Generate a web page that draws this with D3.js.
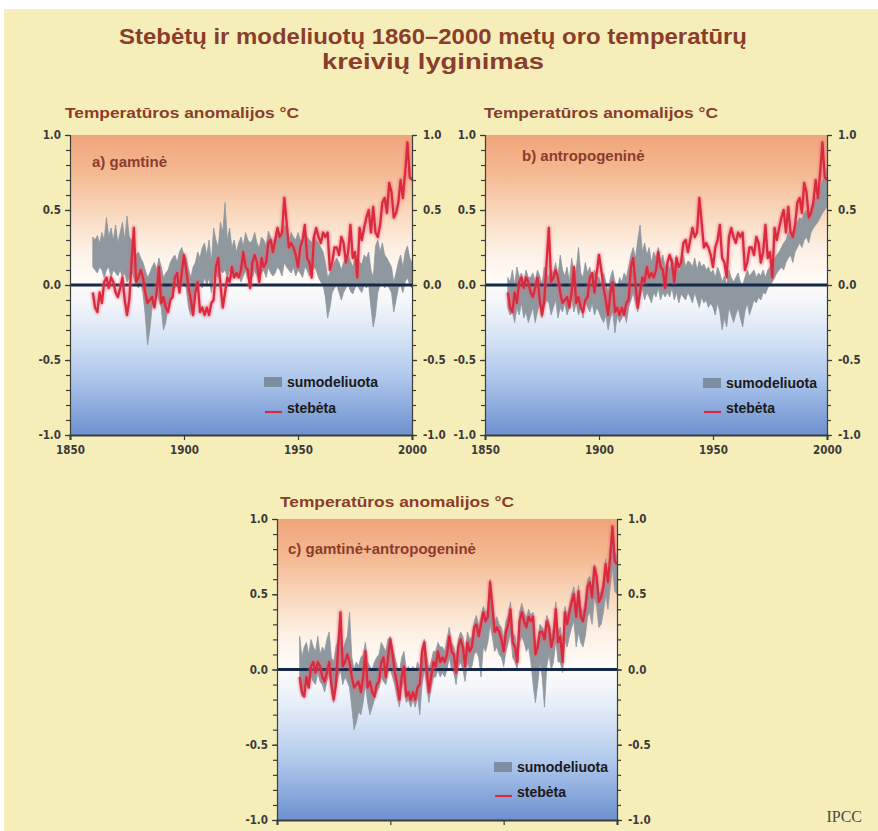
<!DOCTYPE html>
<html>
<head>
<meta charset="utf-8">
<script src="https://cdn.jsdelivr.net/npm/d3@7"></script>
<style>
  html, body { margin: 0; padding: 0; background: #ffffff; }
  svg { display: block; }
</style>
</head>
<body>
<svg id="chart" width="878" height="831"></svg>
<script>
// ---- data -------------------------------------------------------------
const firstYear = 1860;
const xDomain = [1850, 2000];
const yDomain = [-1, 1];
const xTicks = [1850, 1900, 1950, 2000];
const xTickLabels = ["1850", "1900", "1950", "2000"];
const yTicks = [-1, -0.5, 0, 0.5, 1];
const yTickLabels = ["-1.0", "-0.5", "0.0", "0.5", "1.0"];
const yMinorTicks = [-1, -0.9, -0.8, -0.7, -0.6, -0.5, -0.4, -0.3, -0.2, -0.1, 0,
                     0.1, 0.2, 0.3, 0.4, 0.5, 0.6, 0.7, 0.8, 0.9, 1];

const titleLines = ["Stebėtų ir modeliuotų 1860–2000 metų oro temperatūrų", "kreivių lyginimas"];
const axisTitle = "Temperatūros anomalijos °C";
const panelLabels = ["a) gamtinė", "b) antropogeninė", "c) gamtinė+antropogeninė"];
const legendLabels = ["sumodeliuota", "stebėta"];
const sourceLabel = "IPCC";

// observed annual anomaly, 1860–2000
const observed = [
  -0.05,-0.15,-0.18,-0.05,-0.12, 0.02, 0.05,-0.02, 0.05, 0.02,
  -0.05,-0.08,-0.02, 0.05,-0.10,-0.20,-0.10, 0.15, 0.38, 0.02,
   0.05, 0.10, 0.05,-0.05,-0.12,-0.10,-0.08,-0.15,-0.05, 0.12,
  -0.12,-0.08,-0.15,-0.18,-0.10,-0.08, 0.05, 0.08,-0.05, 0.08,
   0.20, 0.10,-0.02,-0.10,-0.20,-0.05, 0.02,-0.18,-0.15,-0.20,
  -0.15,-0.20,-0.12,-0.10, 0.12, 0.18, 0.00,-0.15,-0.05, 0.05,
   0.02, 0.12, 0.05, 0.08, 0.05, 0.10, 0.22, 0.12, 0.10,-0.02,
   0.15, 0.20, 0.15, 0.02, 0.18, 0.12, 0.15, 0.28, 0.30, 0.22,
   0.30, 0.38, 0.32, 0.35, 0.58, 0.42, 0.25, 0.28, 0.25, 0.20,
   0.12, 0.25, 0.30, 0.40, 0.18, 0.15, 0.05, 0.32, 0.38, 0.32,
   0.28, 0.35, 0.32, 0.35, 0.10, 0.15, 0.25, 0.25, 0.20, 0.32,
   0.28, 0.15, 0.22, 0.40, 0.18, 0.22, 0.05, 0.38, 0.30, 0.38,
   0.45, 0.50, 0.35, 0.52, 0.35, 0.32, 0.40, 0.55, 0.58, 0.48,
   0.68, 0.62, 0.45, 0.48, 0.55, 0.70, 0.58, 0.75, 0.95, 0.72,
   0.70
];

// model ensemble range, natural forcing
const naturalLow = [
   0.12, 0.10, 0.08, 0.12, 0.10, 0.05, 0.10, 0.12, 0.05, 0.10,
   0.08, 0.06, 0.10, 0.05, 0.08, 0.02, 0.05, 0.10, 0.05, 0.00,
  -0.02, 0.02,-0.05,-0.20,-0.40,-0.30,-0.15,-0.08,-0.05,-0.10,
  -0.15,-0.30,-0.25,-0.15,-0.10,-0.05,-0.02, 0.00,-0.05, 0.02,
   0.00,-0.02,-0.15,-0.20,-0.10,-0.05, 0.00, 0.02,-0.02, 0.05,
   0.00, 0.05,-0.05, 0.05, 0.08, 0.05, 0.10, 0.08, 0.10, 0.05,
   0.10, 0.05, 0.08, 0.05, 0.08, 0.02, 0.06, 0.10, 0.04, 0.08,
   0.05, 0.10, 0.06, 0.02, 0.08, 0.10, 0.05, 0.12, 0.08, 0.06,
   0.08, 0.12, 0.10, 0.06, 0.15, 0.12, 0.10, 0.08, 0.12, 0.06,
   0.10, 0.08, 0.05, 0.12, 0.10, 0.06, 0.08, 0.12, 0.10, 0.05,
   0.02, 0.00,-0.08,-0.22,-0.15,-0.05,-0.02, 0.00,-0.05,-0.10,
  -0.05,-0.02, 0.00,-0.04,-0.06,-0.02, 0.00,-0.03,-0.05, 0.00,
  -0.02, 0.00,-0.15,-0.28,-0.20,-0.05, 0.00, 0.02,-0.02, 0.00,
  -0.02,-0.05,-0.18,-0.10,-0.02, 0.00,-0.05, 0.02, 0.05, 0.00,
  -0.02
];
const naturalHigh = [
   0.32, 0.30, 0.33, 0.28, 0.35, 0.30, 0.45, 0.32, 0.38, 0.30,
   0.40, 0.28, 0.35, 0.42, 0.30, 0.46, 0.32, 0.30, 0.25, 0.20,
   0.22, 0.18, 0.15, 0.10, 0.05, 0.08, 0.12, 0.15, 0.10, 0.18,
   0.12, 0.05, 0.08, 0.10, 0.15, 0.18, 0.20, 0.15, 0.22, 0.25,
   0.20, 0.18, 0.10, 0.05, 0.12, 0.15, 0.22, 0.18, 0.25, 0.28,
   0.20, 0.30, 0.15, 0.38, 0.30, 0.25, 0.42, 0.35, 0.55, 0.30,
   0.38, 0.25, 0.30, 0.22, 0.28, 0.32, 0.26, 0.35, 0.30, 0.28,
   0.30, 0.35, 0.28, 0.25, 0.32, 0.30, 0.26, 0.36, 0.32, 0.28,
   0.32, 0.36, 0.30, 0.34, 0.40, 0.38, 0.30, 0.35, 0.32, 0.30,
   0.35, 0.30, 0.28, 0.36, 0.32, 0.30, 0.28, 0.34, 0.30, 0.28,
   0.25, 0.22, 0.15, 0.05, 0.08, 0.12, 0.15, 0.18, 0.15, 0.10,
   0.15, 0.18, 0.20, 0.16, 0.12, 0.18, 0.20, 0.15, 0.14, 0.20,
   0.18, 0.22, 0.10, 0.05, 0.26, 0.30, 0.22, 0.28, 0.20, 0.18,
   0.15, 0.12, 0.02, 0.08, 0.15, 0.20, 0.12, 0.22, 0.26, 0.18,
   0.15
];

// model ensemble range, anthropogenic forcing
const anthroLow = [
  -0.15,-0.20,-0.18,-0.25,-0.15,-0.20,-0.12,-0.22,-0.18,-0.25,
  -0.20,-0.15,-0.25,-0.18,-0.12,-0.22,-0.15,-0.10,-0.12,-0.20,
  -0.15,-0.10,-0.22,-0.15,-0.18,-0.12,-0.20,-0.15,-0.08,-0.18,
  -0.12,-0.20,-0.15,-0.22,-0.10,-0.15,-0.18,-0.12,-0.20,-0.15,
  -0.18,-0.22,-0.25,-0.20,-0.30,-0.22,-0.18,-0.32,-0.20,-0.25,
  -0.22,-0.18,-0.25,-0.15,-0.10,-0.05,-0.12,-0.18,-0.08,-0.02,
  -0.10,-0.05,-0.08,-0.12,-0.05,-0.08,-0.02,-0.10,-0.05,-0.08,
  -0.05,-0.08,-0.02,-0.10,-0.05,-0.12,-0.06,-0.08,-0.10,-0.05,
  -0.08,-0.12,-0.05,-0.10,-0.15,-0.08,-0.12,-0.10,-0.15,-0.12,
  -0.15,-0.20,-0.12,-0.18,-0.30,-0.22,-0.28,-0.15,-0.20,-0.25,
  -0.20,-0.15,-0.22,-0.28,-0.18,-0.12,-0.20,-0.15,-0.10,-0.12,
  -0.08,-0.10,-0.05,-0.06,-0.02, 0.00, 0.02, 0.05, 0.08, 0.10,
   0.12, 0.10, 0.15, 0.18, 0.20, 0.15, 0.22, 0.25, 0.28, 0.25,
   0.30, 0.32, 0.28, 0.35, 0.38, 0.40, 0.42, 0.45, 0.48, 0.50,
   0.52
];
const anthroHigh = [
   0.05, 0.02, 0.10, 0.00, 0.12, 0.05, 0.08, 0.02, 0.10, 0.05,
   0.05, 0.08, 0.02, 0.10, 0.06, 0.00, 0.12, 0.08, 0.05, 0.10,
   0.08, 0.15, 0.05, 0.20, 0.10, 0.06, 0.12, 0.02, 0.18, 0.08,
   0.10, 0.25, 0.08, 0.05, 0.15, 0.08, 0.12, 0.02, 0.10, 0.06,
   0.05, 0.00, 0.08, 0.02,-0.05, 0.05, 0.10, 0.02,-0.02, 0.05,
   0.02, 0.08, 0.05, 0.12, 0.20, 0.25, 0.18, 0.30, 0.40, 0.22,
   0.28, 0.20, 0.25, 0.15, 0.22, 0.18, 0.25, 0.15, 0.20, 0.12,
   0.15, 0.10, 0.18, 0.12, 0.20, 0.08, 0.15, 0.20, 0.12, 0.16,
   0.15, 0.12, 0.18, 0.10, 0.16, 0.12, 0.14, 0.10, 0.12, 0.08,
   0.10, 0.05, 0.12, 0.08, 0.02, 0.06, 0.00, 0.10, 0.05, 0.02,
   0.05, 0.08, 0.02, 0.00, 0.05, 0.10, 0.06, 0.08, 0.10, 0.05,
   0.08, 0.06, 0.10, 0.05, 0.10, 0.12, 0.15, 0.18, 0.20, 0.22,
   0.25, 0.28, 0.30, 0.35, 0.32, 0.36, 0.40, 0.42, 0.45, 0.44,
   0.48, 0.50, 0.46, 0.52, 0.55, 0.58, 0.60, 0.65, 0.70, 0.72,
   0.78
];

// model ensemble range, natural + anthropogenic forcing
const combinedLow = [
  -0.10,-0.18,-0.15,-0.05,-0.12,-0.05,-0.08,-0.10,-0.02,-0.08,
  -0.10,-0.15,-0.08,-0.02,-0.15,-0.22,-0.12,-0.05, 0.00,-0.10,
  -0.05,-0.08,-0.12,-0.25,-0.40,-0.35,-0.28,-0.30,-0.22,-0.10,
  -0.22,-0.30,-0.25,-0.20,-0.15,-0.12,-0.05,-0.08,-0.10,-0.02,
   0.00,-0.05,-0.10,-0.18,-0.25,-0.12,-0.08,-0.22,-0.20,-0.25,
  -0.20,-0.25,-0.18,-0.30,-0.10, 0.00,-0.10,-0.22,-0.12,-0.05,
  -0.05, 0.00,-0.05,-0.02,-0.05, 0.00, 0.08, 0.00,-0.02,-0.10,
   0.02, 0.05, 0.00,-0.08, 0.05, 0.00, 0.02, 0.10, 0.12, 0.08,
  -0.05, 0.15, 0.12, 0.18, 0.30, 0.22, 0.12, 0.15, 0.10, 0.08,
   0.02, 0.12, 0.18, 0.25, 0.08, 0.05, 0.00, 0.18, 0.22, 0.18,
   0.12, 0.15, 0.05,-0.10,-0.22,-0.10, 0.05,-0.05,-0.25, 0.02,
   0.10, 0.00, 0.05, 0.20, 0.05, 0.05,-0.02, 0.20, 0.15, 0.22,
   0.28, 0.32, 0.15, 0.25, 0.18, 0.15, 0.22, 0.35, 0.38, 0.30,
   0.48, 0.42, 0.28, 0.30, 0.38, 0.50, 0.40, 0.55, 0.68, 0.52,
   0.50
];
const combinedHigh = [
   0.22, 0.08, 0.15, 0.18, 0.10, 0.20, 0.15, 0.12, 0.22, 0.10,
   0.15, 0.12, 0.20, 0.25, 0.08, 0.05, 0.15, 0.20, 0.25, 0.12,
   0.18, 0.22, 0.38, 0.08, 0.00, 0.05, 0.02, 0.08, 0.10, 0.18,
   0.05, 0.02, 0.00, 0.05, 0.08, 0.10, 0.18, 0.15, 0.12, 0.20,
   0.22, 0.15, 0.08, 0.02,-0.02, 0.08, 0.12, 0.00, 0.02,-0.02,
   0.02,-0.02, 0.05, 0.00, 0.15, 0.20, 0.10, 0.00, 0.05, 0.12,
   0.12, 0.18, 0.15, 0.15, 0.12, 0.20, 0.28, 0.18, 0.15, 0.08,
   0.20, 0.25, 0.22, 0.10, 0.25, 0.20, 0.22, 0.32, 0.36, 0.28,
   0.35, 0.42, 0.38, 0.40, 0.60, 0.48, 0.32, 0.35, 0.30, 0.28,
   0.20, 0.32, 0.36, 0.45, 0.25, 0.22, 0.12, 0.38, 0.44, 0.38,
   0.34, 0.40, 0.36, 0.38, 0.15, 0.20, 0.30, 0.28, 0.25, 0.36,
   0.32, 0.22, 0.28, 0.45, 0.25, 0.28, 0.12, 0.42, 0.36, 0.42,
   0.50, 0.55, 0.40, 0.56, 0.42, 0.38, 0.46, 0.60, 0.62, 0.54,
   0.70, 0.66, 0.50, 0.52, 0.60, 0.74, 0.62, 0.80, 0.96, 0.78,
   0.75
];

// ---- drawing ----------------------------------------------------------
const svg = d3.select("#chart");
const brown = "#8a3d2c";
const bandColor = "#8e989e";
const redColor = "#dc2b3e";
const sansFont = "'Liberation Sans', Arial, sans-serif";
const narrowFont = "'DejaVu Sans Condensed', 'Liberation Sans', sans-serif";

const defs = svg.append("defs");

// plot-area background: warm at the top, cool at the bottom
const grad = defs.append("linearGradient")
  .attr("id", "plotBg").attr("x1", 0).attr("y1", 0).attr("x2", 0).attr("y2", 1);
[["0%", "#f0a57a"], ["12%", "#f4b891"], ["26%", "#f9d8bd"], ["38%", "#fdf0e4"],
 ["48%", "#fffbf7"], ["56%", "#f3f6fb"], ["66%", "#d9e6f6"], ["80%", "#b1c9ec"],
 ["100%", "#6d90d0"]].forEach(([o, c]) =>
  grad.append("stop").attr("offset", o).attr("stop-color", c));

const soft = defs.append("filter").attr("id", "soft")
  .attr("x", "-5%").attr("y", "-5%").attr("width", "110%").attr("height", "110%");
soft.append("feGaussianBlur").attr("stdDeviation", 0.55);

const glow = defs.append("filter").attr("id", "glow")
  .attr("x", "-5%").attr("y", "-5%").attr("width", "110%").attr("height", "110%");
glow.append("feGaussianBlur").attr("stdDeviation", 1.2);

// page background
svg.append("rect").attr("x", 4).attr("y", 9).attr("width", 874).attr("height", 822)
  .attr("fill", "#f6eeb8");

// title (bold sans, horizontally condensed)
svg.append("g").selectAll("text").data(titleLines).join("text")
  .attr("x", 433).attr("y", (d, i) => 44 + i * 25)
  .attr("text-anchor", "middle")
  .attr("font-family", sansFont)
  .attr("font-weight", "bold").attr("font-size", 22)
  .attr("fill", brown)
  .attr("textLength", (d, i) => i === 0 ? 628 : 222)
  .attr("lengthAdjust", "spacingAndGlyphs")
  .text(d => d);

const panels = [
  { label: panelLabels[0], low: naturalLow, high: naturalHigh,
    left: 70, right: 412, top: 135, bottom: 435, yearLabels: true,
    titleX: 65, titleY: 118, labelX: 92, labelY: 167,
    legendX: 264, legendY: 377, legendGap: 25 },
  { label: panelLabels[1], low: anthroLow, high: anthroHigh,
    left: 485, right: 827, top: 135, bottom: 435, yearLabels: true,
    titleX: 484, titleY: 118, labelX: 522, labelY: 161,
    legendX: 703, legendY: 378, legendGap: 24 },
  { label: panelLabels[2], low: combinedLow, high: combinedHigh,
    left: 277, right: 617, top: 519, bottom: 820, yearLabels: false,
    titleX: 280, titleY: 507, labelX: 288, labelY: 554,
    legendX: 494, legendY: 762, legendGap: 24 }
];

panels.forEach((p, pi) => {
  const x = d3.scaleLinear().domain(xDomain).range([p.left, p.right]);
  const y = d3.scaleLinear().domain(yDomain).range([p.bottom, p.top]);
  const g = svg.append("g");
  const yr = i => firstYear + i;

  // axis title above the panel
  g.append("text")
    .attr("x", p.titleX).attr("y", p.titleY)
    .attr("font-family", sansFont)
    .attr("font-weight", "bold").attr("font-size", 15)
    .attr("fill", brown)
    .attr("textLength", 234).attr("lengthAdjust", "spacingAndGlyphs")
    .text(axisTitle);

  // background
  g.append("rect")
    .attr("x", x(xDomain[0])).attr("y", y(yDomain[1]))
    .attr("width", x(xDomain[1]) - x(xDomain[0]))
    .attr("height", y(yDomain[0]) - y(yDomain[1]))
    .attr("fill", "url(#plotBg)");

  const clipId = "clip" + pi;
  defs.append("clipPath").attr("id", clipId).append("rect")
    .attr("x", x(xDomain[0])).attr("y", y(yDomain[1]))
    .attr("width", x(xDomain[1]) - x(xDomain[0]))
    .attr("height", y(yDomain[0]) - y(yDomain[1]));

  const plot = g.append("g").attr("clip-path", `url(#${clipId})`);

  // model range band
  const band = d3.area()
    .x((d, i) => x(yr(i)))
    .y0((d, i) => y(p.low[i]))
    .y1((d, i) => y(p.high[i]));
  plot.append("path")
    .datum(p.low)
    .attr("d", band)
    .attr("fill", bandColor)
    .attr("stroke", bandColor).attr("stroke-width", 0.8)
    .attr("filter", "url(#soft)");

  // zero line
  plot.append("line")
    .attr("x1", x(xDomain[0])).attr("x2", x(xDomain[1]))
    .attr("y1", y(0)).attr("y2", y(0))
    .attr("stroke", "#15284a").attr("stroke-width", 3);

  // observed record
  const line = d3.line()
    .x((d, i) => x(yr(i)))
    .y(d => y(d));
  plot.append("path")
    .datum(observed)
    .attr("d", line)
    .attr("fill", "none")
    .attr("stroke", "#e8607a").attr("stroke-opacity", 0.55)
    .attr("stroke-width", 4.5).attr("stroke-linejoin", "round")
    .attr("filter", "url(#glow)");
  plot.append("path")
    .datum(observed)
    .attr("d", line)
    .attr("fill", "none")
    .attr("stroke", redColor).attr("stroke-width", 2.3)
    .attr("stroke-linejoin", "round")
    .attr("filter", "url(#soft)");

  // axes
  const styleAxis = sel => {
    sel.select(".domain").attr("stroke", "#3c3c3c").attr("stroke-width", 1.2);
    sel.selectAll(".tick line").attr("stroke", "#3c3c3c").attr("stroke-width", 1.2);
    sel.selectAll(".tick text")
      .attr("font-family", narrowFont).attr("font-weight", "bold")
      .attr("font-size", 11.5).attr("fill", "#3a3a3a");
  };
  const labelFor = v => yTickLabels[yTicks.indexOf(v)];

  const leftMinor = g.append("g").attr("transform", `translate(${p.left},0)`)
    .call(d3.axisLeft(y).tickValues(yMinorTicks).tickSize(4).tickFormat(""));
  styleAxis(leftMinor);
  const leftMajor = g.append("g").attr("transform", `translate(${p.left},0)`)
    .call(d3.axisLeft(y).tickValues(yTicks).tickSize(5).tickPadding(4).tickFormat(labelFor));
  styleAxis(leftMajor);
  leftMajor.select(".domain").remove();

  const rightMinor = g.append("g").attr("transform", `translate(${p.right},0)`)
    .call(d3.axisRight(y).tickValues(yMinorTicks).tickSize(4).tickFormat(""));
  styleAxis(rightMinor);
  const rightMajor = g.append("g").attr("transform", `translate(${p.right},0)`)
    .call(d3.axisRight(y).tickValues(yTicks).tickSize(5).tickPadding(6).tickFormat(labelFor));
  styleAxis(rightMajor);
  rightMajor.select(".domain").remove();

  // the lower panel's year labels fall below the page, so only its ticks are drawn
  const bottom = g.append("g").attr("transform", `translate(0,${p.bottom})`)
    .call(d3.axisBottom(x).tickValues(xTicks).tickSize(5).tickPadding(6)
      .tickFormat(v => p.yearLabels ? xTickLabels[xTicks.indexOf(v)] : ""));
  styleAxis(bottom);
  bottom.select(".domain").attr("stroke-width", 2);

  // panel label
  g.append("text")
    .attr("x", p.labelX).attr("y", p.labelY)
    .attr("font-family", sansFont)
    .attr("font-weight", "bold").attr("font-size", 15)
    .attr("fill", brown)
    .text(p.label);

  // legend
  const lg = g.append("g").attr("transform", `translate(${p.legendX},${p.legendY})`);
  lg.append("rect").attr("x", 0).attr("y", 0).attr("width", 18).attr("height", 10)
    .attr("fill", "#7d8ea3").attr("filter", "url(#soft)");
  lg.append("line").attr("x1", 1).attr("x2", 18)
    .attr("y1", p.legendGap + 10).attr("y2", p.legendGap + 10)
    .attr("stroke", "#e8607a").attr("stroke-opacity", 0.5).attr("stroke-width", 4)
    .attr("filter", "url(#glow)");
  lg.append("line").attr("x1", 1).attr("x2", 18)
    .attr("y1", p.legendGap + 10).attr("y2", p.legendGap + 10)
    .attr("stroke", redColor).attr("stroke-width", 2.2);
  lg.selectAll("text").data(legendLabels).join("text")
    .attr("x", 23).attr("y", (d, i) => 10 + i * (p.legendGap + 1))
    .attr("font-family", sansFont)
    .attr("font-weight", "bold").attr("font-size", 14)
    .attr("fill", "#1a1a1a")
    .text(d => d);
});

// source note
svg.append("text")
  .attr("x", 862).attr("y", 822).attr("text-anchor", "end")
  .attr("font-family", "'Liberation Serif', 'DejaVu Serif', serif")
  .attr("font-size", 16).attr("fill", "#4a4a4a")
  .text(sourceLabel);
</script>
</body>
</html>
